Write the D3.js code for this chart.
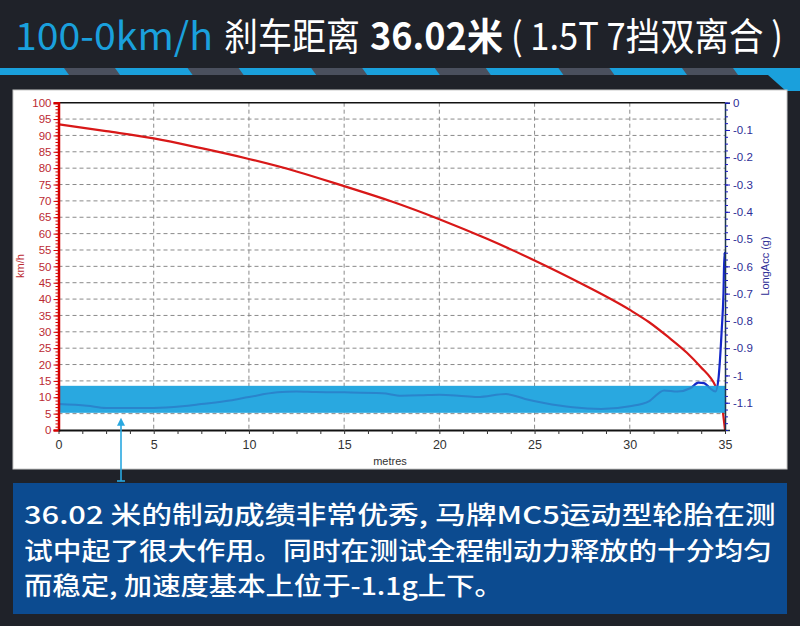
<!DOCTYPE html>
<html><head><meta charset="utf-8">
<script src="https://cdn.jsdelivr.net/npm/d3@7"></script>
<style>html,body{margin:0;padding:0;background:#1f2229;}svg{display:block;}</style>
</head><body>
<svg id="c" width="800" height="626"></svg>
<script>
// ---- data ----
const speedX   = [0,2.5,5,7.5,10,12.5,15,17.5,20,22.5,25,27.5,30,31,32,33,33.7,34.5,34.8,35];
const speedKmh = [93.4,91.3,89.1,86.1,82.8,79.0,74.5,69.8,64.4,58.4,51.8,44.6,36.7,33.0,28.5,23.6,19.4,13.4,9.0,0];
const accX = [0,1.5,2.5,5,6.5,7.5,9,10,11.5,12.5,13.5,15,17,18,19,20,21,22,23.5,24.5,25.5,27,28.5,30,31,31.8,32.5,33.2,33.6,33.9,34.2,34.5,34.65,34.83,34.92,34.97,35];
const accG = [-1.105,-1.111,-1.119,-1.119,-1.113,-1.105,-1.092,-1.079,-1.062,-1.059,-1.061,-1.062,-1.065,-1.074,-1.073,-1.071,-1.074,-1.079,-1.068,-1.086,-1.101,-1.117,-1.123,-1.113,-1.095,-1.055,-1.059,-1.046,-1.026,-1.028,-1.046,-1.059,-1.016,-0.83,-0.70,-0.55,-0.60];
const bandG = [-1.137, -1.038];
const xTicks = [0,5,10,15,20,25,30,35];
const leftTicks = [0,5,10,15,20,25,30,35,40,45,50,55,60,65,70,75,80,85,90,95,100];
const rightTicks = [0,-0.1,-0.2,-0.3,-0.4,-0.5,-0.6,-0.7,-0.8,-0.9,-1,-1.1];
const xLabel = "metres", leftLabel = "km/h", rightLabel = "LongAcc (g)";
const titleParts = ["100-0km/h", "刹车距离", "36.02米", "( 1.5T 7挡双离合 )"];
const noteLines = ["36.02 米的制动成绩非常优秀, 马牌MC5运动型轮胎在测",
                   "试中起了很大作用。同时在测试全程制动力释放的十分均匀",
                   "而稳定, 加速度基本上位于-1.1g上下。"];

const svg = d3.select("#c");
const W = 800, H = 626;
svg.append("rect").attr("width",W).attr("height",H).attr("fill","#1f2229");

// fit text horizontally by scaling (keeps real bbox inside the target width)
function fitX(sel){
  sel.each(function(d){
    const n = this.getComputedTextLength();
    const sx = d.w / n;
    d3.select(this).attr("x",0).attr("y",0)
      .attr("transform",`translate(${d.x},${d.y}) scale(${sx},1)`);
  });
}

// ---- title ----
const tf = "'Noto Sans CJK SC','Noto Sans',sans-serif";
const tspec = [
  {t:titleParts[0], x:15,  y:50, w:198, c:"#1aa0dc", wt:400},
  {t:titleParts[1], x:224, y:50, w:136, c:"#ffffff", wt:400},
  {t:titleParts[2], x:370, y:50, w:133, c:"#ffffff", wt:700},
  {t:titleParts[3], x:511, y:50, w:272, c:"#ffffff", wt:400}
];
svg.selectAll("text.title").data(tspec).enter().append("text").attr("class","title")
  .attr("fill",d=>d.c).attr("font-family",tf)
  .attr("font-size",38).attr("font-weight",d=>d.wt).text(d=>d.t).call(fitX);

// ---- stripe ----
svg.append("rect").attr("x",0).attr("y",68).attr("width",W).attr("height",7).attr("fill","#1aa0dc");
const grayStarts = d3.range(64, 800, 123.6);
svg.selectAll("polygon.gs").data(grayStarts).enter().append("polygon").attr("class","gs")
  .attr("points",s=>`${s},68 ${s+51},68 ${s+56},75 ${s+5},75`).attr("fill","#4a505e");
svg.append("polygon").attr("points","768,75 800,75 800,91 786,91").attr("fill","#1aa0dc");

// ---- panel ----
svg.append("rect").attr("x",13).attr("y",90).attr("width",774).attr("height",379)
  .attr("fill","#ffffff").attr("stroke","#c9c9c9");

// ---- scales ----
const L = 58.5, R = 725, T = 102.7, B = 430;
const x = d3.scaleLinear().domain([0,35]).range([L,R]);
const y = d3.scaleLinear().domain([0,100]).range([B,T]);
const g = d3.scaleLinear().domain([-1.2,0]).range([B,T]);

// grid
const grid = svg.append("g");
grid.selectAll("line.h").data(leftTicks.filter(v=>v>0&&v<100)).enter().append("line")
  .attr("x1",L).attr("x2",R).attr("y1",d=>y(d)).attr("y2",d=>y(d))
  .attr("stroke","#8a8a8a").attr("stroke-dasharray","4,3");
grid.selectAll("line.v").data(xTicks.filter(v=>v>0&&v<35)).enter().append("line")
  .attr("y1",T).attr("y2",B).attr("x1",d=>x(d)).attr("x2",d=>x(d))
  .attr("stroke","#8a8a8a").attr("stroke-dasharray","4,3");
svg.append("line").attr("x1",L).attr("x2",R).attr("y1",T).attr("y2",T).attr("stroke","#111").attr("stroke-width",1.5);

// speed line
const sp = speedX.map((v,i)=>[v,speedKmh[i]]);
svg.append("path").datum(sp).attr("fill","none").attr("stroke","#d81818").attr("stroke-width",2.2)
  .attr("d", d3.line().x(d=>x(d[0])).y(d=>y(d[1])).curve(d3.curveMonotoneX));

// accel line (dark, under the band)
const ac = accX.map((v,i)=>[v,accG[i]]);
const accLine = d3.line().x(d=>x(d[0])).y(d=>g(d[1])).curve(d3.curveMonotoneX);
svg.append("path").datum(ac).attr("fill","none").attr("stroke","#1428c8").attr("stroke-width",2.2).attr("d",accLine);

// band
svg.append("rect").attr("x",x(0)).attr("width",x(35)-x(0))
  .attr("y",g(bandG[1])).attr("height",g(bandG[0])-g(bandG[1])).attr("fill","#29a8e0");
svg.append("clipPath").attr("id","bandclip").append("rect").attr("x",x(0)).attr("width",x(35)-x(0))
  .attr("y",g(bandG[1])).attr("height",g(bandG[0])-g(bandG[1]));
svg.append("path").datum(ac).attr("fill","none").attr("stroke","#2a84cc").attr("stroke-width",2)
  .attr("clip-path","url(#bandclip)").attr("d",accLine);

// ---- axes ----
const lab = "'Liberation Sans',Arial,sans-serif";
const la = svg.append("g").attr("transform",`translate(${L},0)`)
  .call(d3.axisLeft(y).tickValues(leftTicks).tickSize(5).tickPadding(2).tickFormat(d=>d));
la.select(".domain").attr("stroke","#d40000").attr("stroke-width",2.5);
la.selectAll(".tick line").attr("stroke","#d40000");
la.selectAll("text").attr("fill","#bb2a32").attr("font-size",11.5).attr("font-family",lab);
svg.append("g").attr("transform",`translate(${L},0)`)
  .call(d3.axisLeft(y).tickValues(d3.range(0,101,1)).tickSize(3).tickFormat(""))
  .call(s=>{s.select(".domain").remove(); s.selectAll("line").attr("stroke","#d40000");});
svg.append("text").attr("transform","translate(24,266) rotate(-90)").attr("text-anchor","middle")
  .attr("fill","#bb2a32").attr("font-size",11).attr("font-family",lab).text(leftLabel);

const ra = svg.append("g").attr("transform",`translate(${R},0)`)
  .call(d3.axisRight(g).tickValues(rightTicks).tickSize(5).tickPadding(3).tickFormat(d=>String(+d.toFixed(1))));
ra.select(".domain").attr("stroke","#1d3a4a").attr("stroke-width",1.5);
ra.selectAll(".tick line").attr("stroke","#1a1ac0");
ra.selectAll("text").attr("fill","#2d2d96").attr("font-size",11.5).attr("font-family",lab);
svg.append("g").attr("transform",`translate(${R},0)`)
  .call(d3.axisRight(g).tickValues(d3.range(-48,1,1).map(v=>v*0.025)).tickSize(3).tickFormat(""))
  .call(s=>{s.select(".domain").remove(); s.selectAll("line").attr("stroke","#1a1ac0");});
svg.append("text").attr("transform","translate(769,266) rotate(-90)").attr("text-anchor","middle")
  .attr("fill","#2d2d96").attr("font-size",11).attr("font-family",lab).text(rightLabel);

const ba = svg.append("g").attr("transform",`translate(0,${B})`)
  .call(d3.axisBottom(x).tickValues(xTicks).tickSize(0).tickPadding(10).tickFormat(d=>d));
ba.select(".domain").attr("stroke","#111").attr("stroke-width",2);
ba.selectAll("text").attr("fill","#333").attr("font-size",12.5).attr("font-family",lab);
svg.append("g").attr("transform",`translate(0,${B})`)
  .call(d3.axisBottom(x).tickValues(d3.range(0,29,1).map(v=>v*1.25)).tickSize(4).tickFormat(""))
  .call(s=>{s.select(".domain").remove(); s.selectAll("line").attr("stroke","#333");});
svg.append("text").attr("x",390).attr("y",465).attr("text-anchor","middle")
  .attr("fill","#333").attr("font-size",11).attr("font-family",lab).text(xLabel);

// ---- pointer ----
const px = 121;
svg.append("line").attr("x1",px).attr("x2",px).attr("y1",g(bandG[0])+8).attr("y2",481)
  .attr("stroke","#29a8e0").attr("stroke-width",1.6);
svg.append("path").attr("d",`M${px},${g(bandG[0])+5} l-4,8 l8,0 z`).attr("fill","#29a8e0");
svg.append("line").attr("x1",px-4).attr("x2",px+4).attr("y1",481).attr("y2",481)
  .attr("stroke","#29a8e0").attr("stroke-width",1.6);

// ---- note box ----
svg.append("rect").attr("x",13).attr("y",483).attr("width",774).attr("height",131).attr("fill","#0c4b90");
const nspec = [{t:noteLines[0],x:24,y:524,w:752},{t:noteLines[1],x:24,y:560,w:748},{t:noteLines[2],x:24,y:595,w:479}];
svg.selectAll("text.note").data(nspec).enter().append("text").attr("class","note")
  .attr("fill","#fff").attr("font-family",tf)
  .attr("font-size",24.5).attr("font-weight",500).text(d=>d.t).call(fitX);
</script>
</body></html>
